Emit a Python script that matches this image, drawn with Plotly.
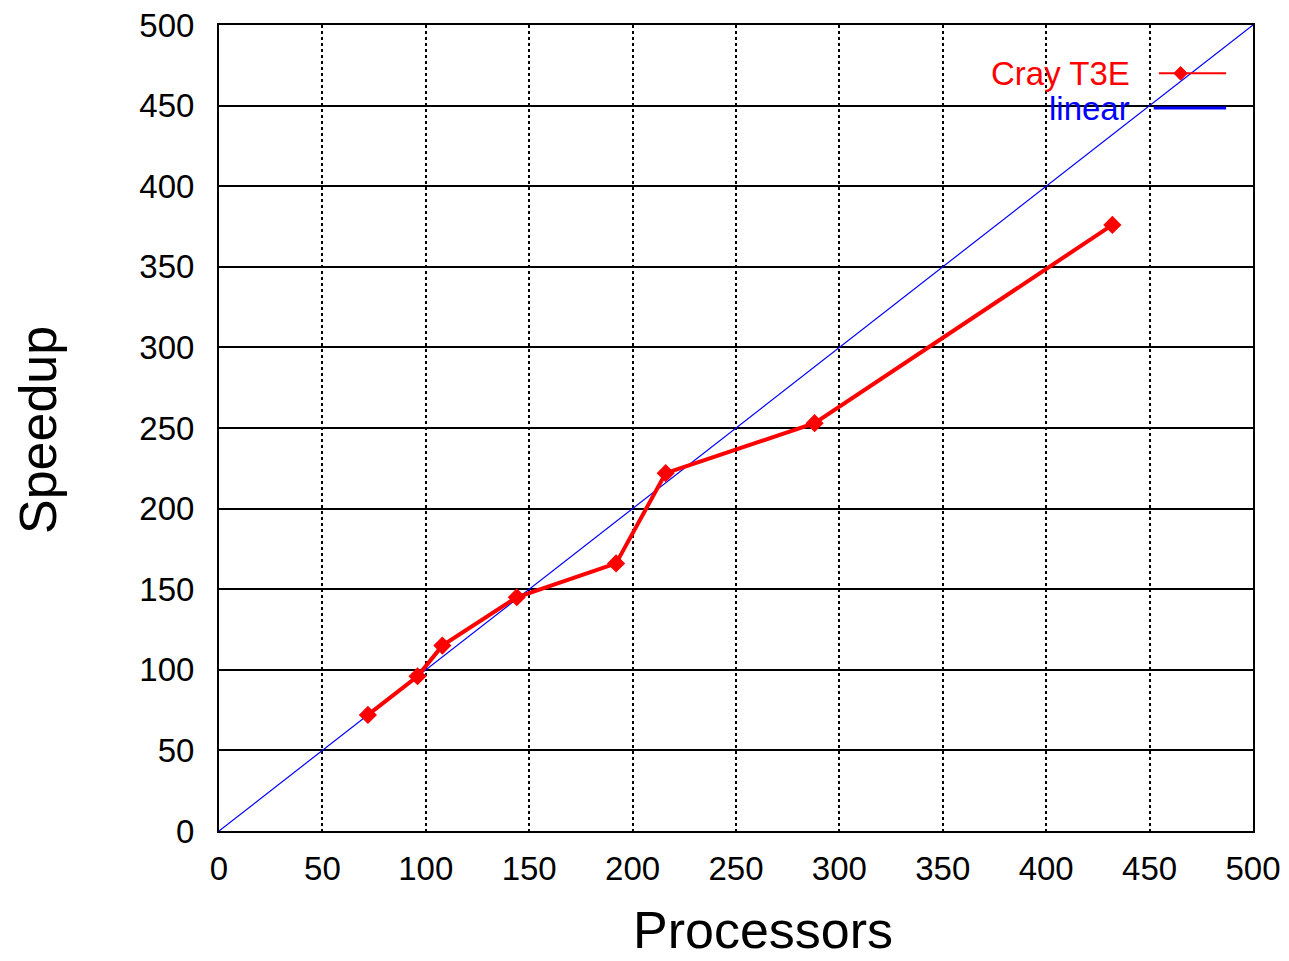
import plotly.graph_objects as go

processors = [72, 96, 108, 144, 192, 216, 288, 432]
speedup = [72, 96, 115, 145, 166, 222, 253, 376]
linear_x = [0, 500]
linear_y = [0, 500]
tick_vals = list(range(0, 501, 50))

fig = go.Figure()
fig.add_trace(go.Scatter(x=linear_x, y=linear_y, mode="lines",
                         line=dict(color="#0000ff", width=1.2), name="linear"))
fig.add_trace(go.Scatter(x=processors, y=speedup, mode="lines+markers",
                         line=dict(color="#ff0000", width=4),
                         marker=dict(symbol="diamond", size=14, color="#ff0000"),
                         name="Cray T3E"))

FAM = "Liberation Sans, Arial, sans-serif"
font_ticks = dict(family=FAM, size=33, color="black")
fig.update_xaxes(range=[0, 500], tickvals=tick_vals, showgrid=True, automargin=False,
                 gridcolor="black", gridwidth=2, griddash="dot",
                 showline=True, linecolor="black", linewidth=2, mirror=True,
                 ticks="outside", ticklen=7, tickcolor="white", tickfont=font_ticks, zeroline=False)
fig.update_yaxes(range=[0, 500], tickvals=tick_vals, showgrid=True, automargin=False,
                 gridcolor="black", gridwidth=2,
                 showline=True, linecolor="black", linewidth=2, mirror=True,
                 ticks="outside", ticklen=16, tickcolor="white", tickfont=font_ticks, zeroline=False)

L, R, T, B = 219, 36, 25, 130
H_PLOT = 961 - T - B
W_PLOT = 1289 - L - R
# axis titles placed as in the reference
fig.add_annotation(xref="paper", yref="paper", x=(763 - L) / W_PLOT, y=-(930 - (961 - B)) / H_PLOT,
                   xanchor="center", yanchor="middle", text="Processors", showarrow=False,
                   font=dict(family=FAM, size=52, color="black"))
fig.add_annotation(xref="paper", yref="paper", x=-(L - 38) / W_PLOT, y=((961 - B) - 430) / H_PLOT,
                   xanchor="center", yanchor="middle", text="Speedup", showarrow=False, textangle=-90,
                   font=dict(family=FAM, size=52, color="black"))

# manual legend (text left of sample, gnuplot style)
leg_font = dict(family=FAM, size=33)
fig.add_annotation(xref="paper", yref="paper", x=0.883, y=0.94, xanchor="right", yanchor="middle",
                   text="Cray T3E", showarrow=False, font=dict(color="#ff0000", **leg_font))
fig.add_annotation(xref="paper", yref="paper", x=0.883, y=0.897, xanchor="right", yanchor="middle",
                   text="linear", showarrow=False, font=dict(color="#0000ff", **leg_font))
fig.add_shape(type="line", xref="paper", yref="paper", x0=0.909, x1=0.974, y0=0.94, y1=0.94,
              line=dict(color="#ff0000", width=2))
fig.add_shape(type="line", xref="paper", yref="paper", x0=0.904, x1=0.974, y0=0.897, y1=0.897,
              line=dict(color="#0000ff", width=3))
cx, cy, dx, dy = 0.930, 0.94, 0.0065, 0.0085
fig.add_shape(type="path", xref="paper", yref="paper",
              path=f"M {cx-dx} {cy} L {cx} {cy+dy} L {cx+dx} {cy} L {cx} {cy-dy} Z",
              fillcolor="#ff0000", line=dict(color="#ff0000", width=1))

fig.update_layout(width=1289, height=961, showlegend=False,
                  margin=dict(l=L, r=R, t=T, b=B),
                  plot_bgcolor="white", paper_bgcolor="white")
fig.write_html("out.html")
